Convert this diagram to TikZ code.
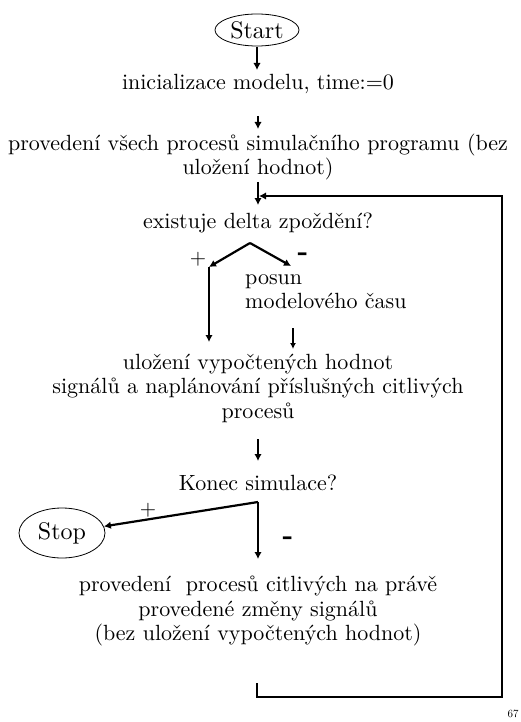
\documentclass[tikz,border=0pt]{standalone}
\usepackage{fontspec}
\setmainfont{lmroman10}[Extension=.otf, UprightFont=*-regular, BoldFont=*-bold, ItalicFont=*-italic, BoldItalicFont=*-bolditalic]
\usetikzlibrary{arrows.meta,shapes.geometric}
\begin{document}
\begin{tikzpicture}[x=1pt,y=-1pt,
  txt/.style={inner sep=0pt, align=center, font=\fontsize{22}{24.5}\selectfont},
  term/.style={ellipse, draw, line width=0.8pt, inner sep=0pt, font=\fontsize{24}{30}\selectfont},
  flow/.style={line width=2.2pt, -{Latex[length=7pt,width=7.5pt]}},
  thinflow/.style={line width=1.4pt, -{Latex[length=6pt,width=6pt]}},
  wire/.style={line width=2pt, line join=miter},
  plus/.style={inner sep=0pt, font=\fontsize{21}{24}\selectfont},
  minus/.style={inner sep=0pt, font=\fontsize{28}{30}\selectfont\bfseries},
]
\useasboundingbox (0,0) rectangle (520,722);

% terminals
\node[term, minimum width=84pt, minimum height=32pt] (start) at (257,30) {Start};
\node[term, minimum width=86pt, minimum height=50pt] (stop) at (62,533) {Stop};

% steps and decisions
\node[txt] (init) at (258,84) {inicializace modelu, time:=0};
\node[txt] (prog) at (258,157) {provedení všech procesů simulačního programu (bez\\uložení hodnot)};
\node[txt] (delta) at (258,223) {existuje delta zpoždění?};
\node[txt, align=left, anchor=north west] (posun) at (245,274) {posun\\modelového času};
\node[txt] (store) at (258,388) {uložení vypočtených hodnot\\signálů a naplánování příslušných citlivých\\procesů};
\node[txt] (konec) at (258,483) {Konec simulace?};
\node[txt] (react) at (258,611) {provedení~ procesů citlivých na právě\\provedené změny signálů\\(bez uložení vypočtených hodnot)};
\node[inner sep=0pt, font=\fontsize{11}{12}\selectfont] (page) at (513,714) {67};

% branch labels
\node[plus] (dplus) at (198,259) {+};
\node[minus] (dminus) at (303,257) {-};
\node[plus] (kplus) at (148,510) {+};
\node[minus] (kminus) at (288,541) {-};

% connector points
\coordinate (a1s) at (257,47);   \coordinate (a1e) at (257,70);
\coordinate (a2s) at (258,116);  \coordinate (a2e) at (258,129);
\coordinate (a3s) at (258,182);  \coordinate (a3e) at (258,205);
\coordinate (peak) at (250,243);
\coordinate (yesbend) at (209,267); \coordinate (yesend) at (209,342);
\coordinate (noend) at (291,266);
\coordinate (ps) at (293,328);   \coordinate (pe) at (293,349);
\coordinate (a4s) at (258,439);  \coordinate (a4e) at (258,461);
\coordinate (kc) at (258,502);   \coordinate (kdown) at (258,559);
\coordinate (l0) at (257,683);   \coordinate (l1) at (257,697);
\coordinate (l2) at (502,697);   \coordinate (l3) at (502,196);
\coordinate (l4) at (259,196);

% main flow
\draw[flow] (a1s) -- (a1e);
\draw[flow] (a2s) -- (a2e);
\draw[flow] (a3s) -- (a3e);
\draw[flow] (peak) -- (yesbend);
\draw[flow] (yesbend) -- (yesend);
\draw[flow] (peak) -- (noend);
\draw[thinflow] (ps) -- (pe);
\draw[flow] (a4s) -- (a4e);
\draw[flow] (kc) -- (stop);
\draw[flow] (kc) -- (kdown);

% loop back to the delta test
\draw[wire, -{Latex[length=7pt,width=7.5pt]}] (l0) -- (l1) -- (l2) -- (l3) -- (l4);
\end{tikzpicture}
\end{document}
